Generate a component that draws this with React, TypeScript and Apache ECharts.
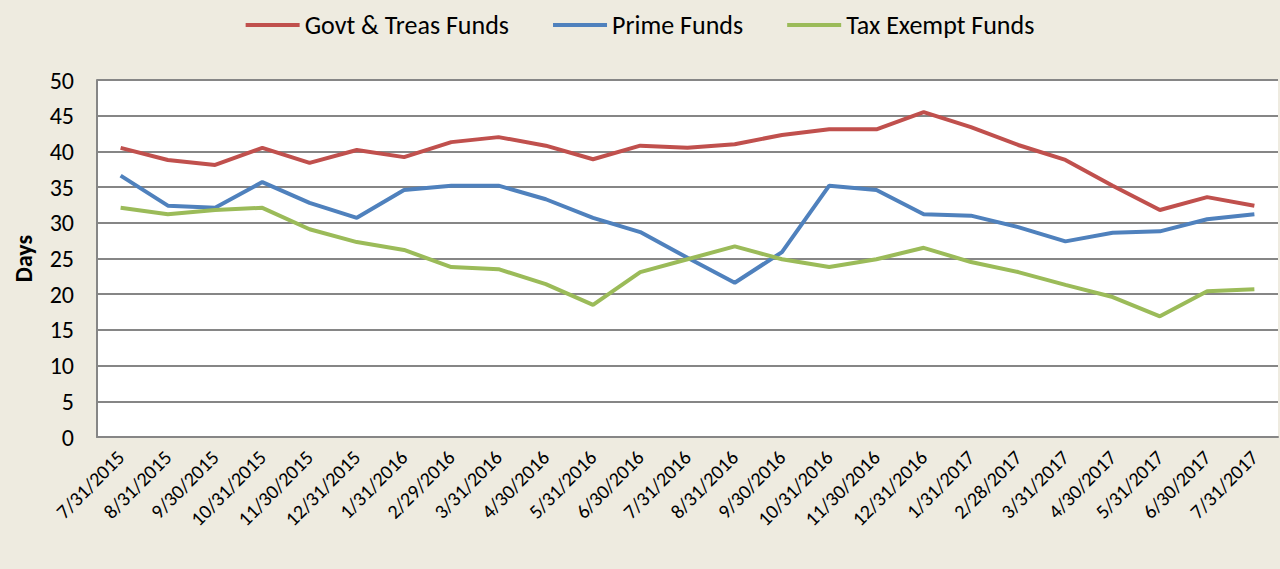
import React, { useEffect, useRef } from "react";
import * as echarts from "echarts";

const categories = [
  "7/31/2015", "8/31/2015", "9/30/2015", "10/31/2015", "11/30/2015", "12/31/2015",
  "1/31/2016", "2/29/2016", "3/31/2016", "4/30/2016", "5/31/2016", "6/30/2016",
  "7/31/2016", "8/31/2016", "9/30/2016", "10/31/2016", "11/30/2016", "12/31/2016",
  "1/31/2017", "2/28/2017", "3/31/2017", "4/30/2017", "5/31/2017", "6/30/2017", "7/31/2017",
];

const govtTreas = [
  40.5, 38.8, 38.1, 40.5, 38.4, 40.2, 39.2, 41.3, 42.0, 40.8, 38.9, 40.8,
  40.5, 41.0, 42.3, 43.1, 43.1, 45.5, 43.4, 40.9, 38.8, 35.2, 31.8, 33.6, 32.4,
];

const prime = [
  36.6, 32.4, 32.1, 35.7, 32.8, 30.7, 34.6, 35.2, 35.2, 33.3, 30.7, 28.7,
  25.1, 21.6, 25.9, 35.2, 34.6, 31.2, 31.0, 29.4, 27.4, 28.6, 28.8, 30.5, 31.2,
];

const taxExempt = [
  32.1, 31.2, 31.8, 32.1, 29.1, 27.3, 26.2, 23.8, 23.5, 21.4, 18.5, 23.1,
  24.9, 26.7, 24.9, 23.8, 24.9, 26.5, 24.5, 23.1, 21.3, 19.6, 16.9, 20.4, 20.7,
];

const seriesNames = ["Govt & Treas Funds", "Prime Funds", "Tax Exempt Funds"];
const seriesColors = ["#C0504D", "#4F81BD", "#9BBB59"];

const FONT = "Carlito, Lato, 'Liberation Sans', sans-serif";

export default function App() {
  const ref = useRef<HTMLDivElement>(null);
  useEffect(() => {
    if (!ref.current) return;
    const chart = echarts.init(ref.current, null, { renderer: "svg" });
    const data = [govtTreas, prime, taxExempt];
    chart.setOption({
      animation: false,
      backgroundColor: "#EEEBE0",
      textStyle: { fontFamily: FONT },
      legend: {
        top: 7,
        left: "center",
        itemWidth: 54,
        itemHeight: 4,
        itemGap: 44,
        icon: "rect",
        textStyle: { fontSize: 26, color: "#000", fontFamily: FONT },
        data: seriesNames,
      },
      grid: {
        left: 97,
        right: 2,
        top: 80,
        bottom: 132,
        containLabel: false,
        outerBoundsMode: "none",
        show: true,
        backgroundColor: "#FFFFFF",
        borderWidth: 0,
      },
      xAxis: {
        type: "category",
        data: categories,
        boundaryGap: true,
        axisLine: { show: true, lineStyle: { color: "#868686", width: 2 } },
        axisTick: { show: false },
        axisLabel: { rotate: 45, fontSize: 20, color: "#000", margin: 17, interval: 0, fontFamily: FONT },
      },
      yAxis: {
        type: "value",
        min: 0,
        max: 50,
        interval: 5,
        name: "Days",
        nameLocation: "middle",
        nameGap: 62,
        nameTextStyle: { fontSize: 24, fontWeight: "bold", color: "#000", fontFamily: FONT },
        axisLine: { show: true, lineStyle: { color: "#868686", width: 2 } },
        axisTick: { show: false },
        axisLabel: { fontSize: 24, color: "#000", margin: 23, fontFamily: FONT },
        splitLine: { show: true, lineStyle: { color: "#868686", width: 2 } },
      },
      series: seriesNames.map((name, i) => ({
        name,
        type: "line",
        data: data[i],
        symbol: "none",
        color: seriesColors[i],
        lineStyle: { width: 4, color: seriesColors[i] },
      })),
    });
    return () => chart.dispose();
  }, []);
  return (
    <div
      ref={ref}
      style={{ position: "absolute", left: 0, top: 0, width: 1280, height: 569 }}
    />
  );
}
